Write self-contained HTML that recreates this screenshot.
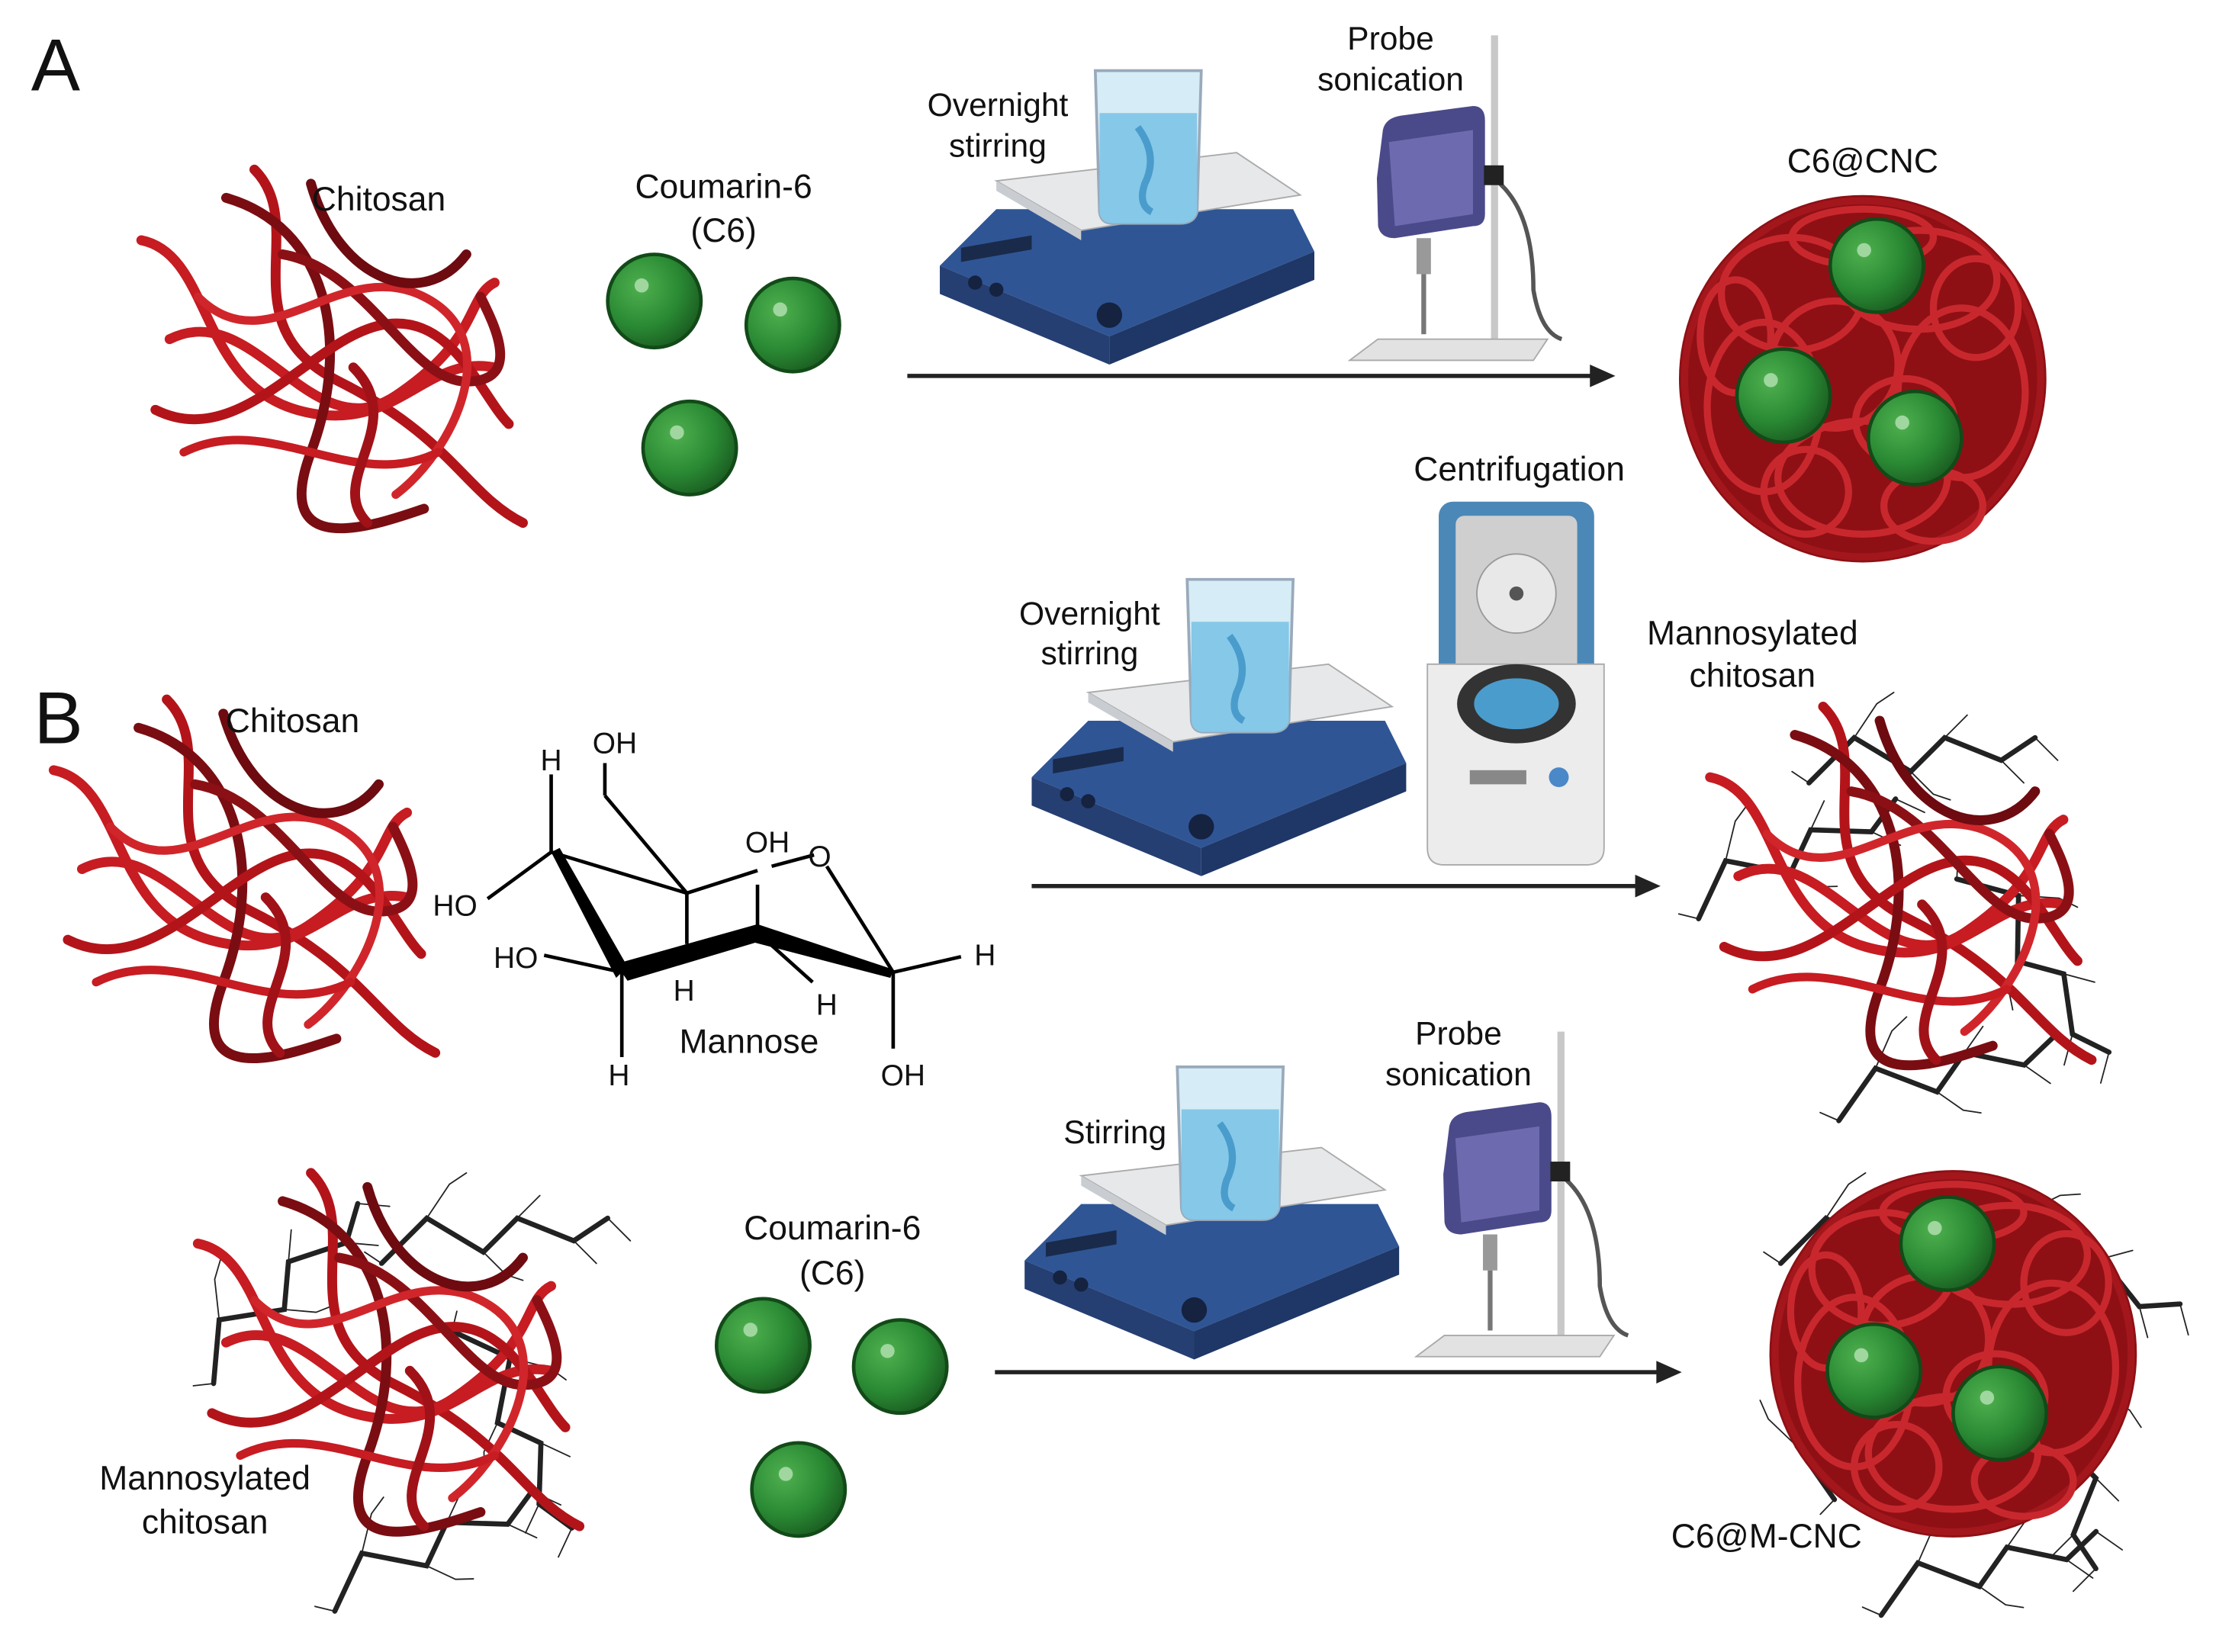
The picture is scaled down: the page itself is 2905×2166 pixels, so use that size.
<!DOCTYPE html>
<html><head><meta charset="utf-8"><style>
html,body{margin:0;padding:0;background:#fff;}
svg{display:block;}
text{font-family:"Liberation Sans",sans-serif;fill:#111;}
</style></head><body>
<svg width="2905" height="2166" viewBox="0 0 1568 1169" preserveAspectRatio="none" xmlns="http://www.w3.org/2000/svg">
<defs>
<radialGradient id="gs" cx="0.35" cy="0.35" r="0.7"><stop offset="0" stop-color="#4fb04f"/><stop offset="0.6" stop-color="#2a8a34"/><stop offset="1" stop-color="#1b5e22"/></radialGradient>
<g id="sph"><circle r="33" fill="url(#gs)" stroke="#124a18" stroke-width="2.5"/><circle cx="-9" cy="-11" r="5" fill="#9fd79f"/></g>
<g id="chit" fill="none" stroke-linecap="round">
<path d="M80 0 C120 40,60 110,140 150 S230 230,270 250" stroke="#b3141a" stroke-width="7"/>
<path d="M0 50 C50 60,40 150,110 170 S200 130,250 140" stroke="#c61c22" stroke-width="7"/>
<path d="M20 120 C80 90,120 200,180 160 S230 90,250 80" stroke="#c61c22" stroke-width="7"/>
<path d="M60 20 C130 40,150 120,120 200 S170 250,200 240" stroke="#7a0d12" stroke-width="7"/>
<path d="M10 170 C70 200,120 120,170 110 S240 160,260 180" stroke="#b3141a" stroke-width="7"/>
<path d="M100 60 C160 70,190 150,230 150 S250 110,240 90" stroke="#8b1015" stroke-width="7"/>
<path d="M40 90 C90 140,140 60,200 90 S220 200,180 230" stroke="#d0262b" stroke-width="6"/>
<path d="M120 10 C140 80,200 100,230 60" stroke="#6d0b10" stroke-width="7"/>
<path d="M30 200 C90 170,150 230,210 200" stroke="#c61c22" stroke-width="6"/>
<path d="M150 140 C190 180,130 220,160 250" stroke="#a01218" stroke-width="7"/>
</g>
<g id="m0" fill="none" stroke="#222" stroke-linecap="round">
<path d="M0 80 L40 40 L90 70 L120 40 L170 60 L200 40" stroke-width="4.5"/>
<path d="M40 40 L60 10 M90 70 L110 90 M120 40 L140 20 M170 60 L190 80 M200 40 L220 60 M0 80 L-15 70 M60 10 L75 0 M110 90 L125 95" stroke-width="1.2"/>
</g>
<g id="mann"><use href="#m0" transform="scale(0.8)"/></g>
<g id="np">
<circle r="130" fill="#8e1015"/>
<g fill="none" stroke="#c8282d" stroke-width="5">
<circle r="126" stroke="#a3171c"/>
<ellipse cx="-50" cy="-60" rx="50" ry="40"/><ellipse cx="40" cy="-70" rx="55" ry="35"/>
<ellipse cx="70" cy="10" rx="45" ry="60"/><ellipse cx="-70" cy="20" rx="40" ry="60"/>
<ellipse cx="0" cy="70" rx="60" ry="40"/><ellipse cx="-20" cy="-10" rx="45" ry="45"/>
<ellipse cx="30" cy="30" rx="35" ry="30"/><ellipse cx="-40" cy="80" rx="30" ry="30"/>
<ellipse cx="80" cy="-50" rx="30" ry="35"/><ellipse cx="-90" cy="-30" rx="25" ry="40"/>
<ellipse cx="50" cy="90" rx="35" ry="25"/><ellipse cx="0" cy="-100" rx="50" ry="20"/>
</g>
</g>
<g id="hp">
<polygon points="0,80 40,40 250,40 265,70 120,130" fill="#2f5595"/>
<polygon points="0,80 120,130 120,150 0,100" fill="#253f72"/>
<polygon points="120,130 265,70 265,90 120,150" fill="#1e3766"/>
<polygon points="40,20 210,0 255,30 100,55" fill="#e6e8ea" stroke="#aaa"/>
<polygon points="40,20 100,55 100,62 40,27" fill="#c9ccd0"/>
<rect x="15" y="70" width="50" height="10" fill="#1a2a4a" transform="skewY(-10)"/>
<circle cx="25" cy="92" r="5" fill="#152240"/><circle cx="40" cy="97" r="5" fill="#152240"/>
<circle cx="120" cy="115" r="9" fill="#152240"/>
</g>
<g id="bk">
<path d="M0 0 L75 0 L72 100 Q70 108 60 108 L12 108 Q4 108 3 100 Z" fill="#d6ecf6" stroke="#9ab" stroke-width="2"/>
<path d="M3 30 L72 30 L72 100 Q70 108 60 108 L12 108 Q4 108 3 100 Z" fill="#86c8e8"/>
<path d="M30 40 Q45 60 35 80 Q30 95 40 100" stroke="#4a9ccc" stroke-width="5" fill="none"/>
</g>
<g id="son">
<rect x="100" y="0" width="5" height="220" fill="#c8c8c8"/>
<polygon points="0,230 130,230 140,215 20,215" fill="#e2e2e2" stroke="#aaa"/>
<g transform="translate(15,50) scale(0.85)">
<path d="M5 60 L10 20 Q12 10 25 8 L85 0 Q95 0 95 12 L95 90 Q95 100 85 100 L20 110 Q8 110 6 100 Z" fill="#4a4a8a"/>
<path d="M15 30 L85 20 L85 90 L20 100 Z" fill="#6e6ab0"/>
<rect x="38" y="110" width="12" height="30" fill="#999"/><rect x="42" y="140" width="4" height="50" fill="#777"/>
</g>
<path d="M100 100 Q130 120 130 180 Q135 210 150 215" stroke="#555" stroke-width="3" fill="none"/>
<rect x="95" y="92" width="14" height="14" fill="#222"/>
</g>
</defs>

<text x="22" y="64" font-size="52">A</text>
<text x="24" y="526" font-size="52">B</text>

<use href="#chit" transform="translate(100,120)"/>
<text x="268" y="149" font-size="24" text-anchor="middle">Chitosan</text>
<text x="512" y="140" font-size="24" text-anchor="middle">Coumarin-6</text>
<text x="512" y="171" font-size="24" text-anchor="middle">(C6)</text>
<use href="#sph" transform="translate(463,213)"/>
<use href="#sph" transform="translate(561,230)"/>
<use href="#sph" transform="translate(488,317)"/>

<use href="#hp" transform="translate(665,108)"/>
<use href="#bk" transform="translate(775,50)"/>
<text x="706" y="82" font-size="23" text-anchor="middle">Overnight</text>
<text x="706" y="111" font-size="23" text-anchor="middle">stirring</text>
<use href="#son" transform="translate(955,25)"/>
<text x="984" y="35" font-size="23" text-anchor="middle">Probe</text>
<text x="984" y="64" font-size="23" text-anchor="middle">sonication</text>
<line x1="642" y1="266" x2="1130" y2="266" stroke="#222" stroke-width="3"/>
<polygon points="1143,266 1125,258 1125,274" fill="#222"/>

<text x="1318" y="122" font-size="24" text-anchor="middle">C6@CNC</text>
<use href="#np" transform="translate(1318,268)"/>
<use href="#sph" transform="translate(1328,188)"/>
<use href="#sph" transform="translate(1262,280)"/>
<use href="#sph" transform="translate(1355,310)"/>

<text x="1075" y="340" font-size="24" text-anchor="middle">Centrifugation</text>
<rect x="1018" y="355" width="110" height="130" rx="10" fill="#4b88b8"/>
<rect x="1030" y="365" width="86" height="115" rx="6" fill="#cfcfcf"/>
<circle cx="1073" cy="420" r="28" fill="#e8e8e8" stroke="#999"/><circle cx="1073" cy="420" r="5" fill="#555"/>
<path d="M1010 470 L1135 470 L1135 600 Q1135 612 1122 612 L1022 612 Q1010 612 1010 600 Z" fill="#ececec" stroke="#aaa"/>
<ellipse cx="1073" cy="498" rx="42" ry="28" fill="#333"/><ellipse cx="1073" cy="498" rx="30" ry="18" fill="#4a9ccc"/>
<rect x="1040" y="545" width="40" height="10" fill="#888"/><circle cx="1103" cy="550" r="7" fill="#4a88c8"/>

<use href="#hp" transform="translate(730,470)"/>
<use href="#bk" transform="translate(840,410)"/>
<text x="771" y="442" font-size="23" text-anchor="middle">Overnight</text>
<text x="771" y="470" font-size="23" text-anchor="middle">stirring</text>
<line x1="730" y1="627" x2="1160" y2="627" stroke="#222" stroke-width="3"/>
<polygon points="1175,627 1157,619 1157,635" fill="#222"/>

<text x="1240" y="456" font-size="24" text-anchor="middle">Mannosylated</text>
<text x="1240" y="486" font-size="24" text-anchor="middle">chitosan</text>
<use href="#mann" transform="translate(1280,490)"/>
<use href="#mann" transform="translate(1440,590) rotate(60)"/>
<use href="#mann" transform="translate(1180,590) rotate(-20)"/>
<use href="#mann" transform="translate(1290,730) rotate(-10)"/>
<use href="#chit" transform="translate(1210,500)"/>

<!-- Mannose -->
<g stroke="#000" stroke-width="2.5" fill="none">
<line x1="390" y1="603" x2="390" y2="548"/>
<line x1="428" y1="563" x2="428" y2="540"/>
<line x1="428" y1="563" x2="486" y2="632"/>
<line x1="390" y1="603" x2="486" y2="632"/>
<line x1="390" y1="603" x2="345" y2="636"/>
<line x1="486" y1="632" x2="536" y2="616"/>
<line x1="546" y1="613" x2="576" y2="605"/>
<line x1="536" y1="626" x2="536" y2="660"/>
<line x1="486" y1="632" x2="486" y2="668"/>
<line x1="585" y1="613" x2="632" y2="688"/>
<line x1="440" y1="688" x2="385" y2="676"/>
<line x1="440" y1="688" x2="440" y2="748"/>
<line x1="536" y1="660" x2="575" y2="695"/>
<line x1="632" y1="688" x2="680" y2="677"/>
<line x1="632" y1="688" x2="632" y2="742"/>
</g>
<polygon points="390,603 396,600 444,684 436,692" fill="#000"/>
<polygon points="436,682 536,654 538,666 444,694" fill="#000"/>
<polygon points="536,654 632,686 630,692 534,667" fill="#000"/>
<g font-size="21">
<text x="390" y="545" text-anchor="middle">H</text>
<text x="435" y="533" text-anchor="middle">OH</text>
<text x="322" y="648" text-anchor="middle">HO</text>
<text x="543" y="603" text-anchor="middle">OH</text>
<text x="580" y="613" text-anchor="middle">O</text>
<text x="365" y="685" text-anchor="middle">HO</text>
<text x="484" y="708" text-anchor="middle">H</text>
<text x="585" y="718" text-anchor="middle">H</text>
<text x="697" y="683" text-anchor="middle">H</text>
<text x="438" y="768" text-anchor="middle">H</text>
<text x="639" y="768" text-anchor="middle">OH</text>
</g>
<text x="530" y="745" font-size="24" text-anchor="middle">Mannose</text>

<use href="#chit" transform="translate(38,495)"/>
<text x="207" y="518" font-size="24" text-anchor="middle">Chitosan</text>

<!-- bottom -->
<use href="#mann" transform="translate(270,830)"/>
<use href="#mann" transform="translate(110,930) rotate(-40)"/>
<use href="#mann" transform="translate(380,920) rotate(70)"/>
<use href="#mann" transform="translate(215,1080) rotate(-20)"/>
<use href="#chit" transform="translate(140,830)"/>
<text x="145" y="1054" font-size="24" text-anchor="middle">Mannosylated</text>
<text x="145" y="1085" font-size="24" text-anchor="middle">chitosan</text>

<text x="589" y="877" font-size="24" text-anchor="middle">Coumarin-6</text>
<text x="589" y="909" font-size="24" text-anchor="middle">(C6)</text>
<use href="#sph" transform="translate(540,952)"/>
<use href="#sph" transform="translate(637,967)"/>
<use href="#sph" transform="translate(565,1054)"/>

<use href="#hp" transform="translate(725,812)"/>
<use href="#bk" transform="translate(833,755)"/>
<text x="789" y="809" font-size="23" text-anchor="middle">Stirring</text>
<use href="#son" transform="translate(1002,730)"/>
<text x="1032" y="739" font-size="23" text-anchor="middle">Probe</text>
<text x="1032" y="768" font-size="23" text-anchor="middle">sonication</text>
<line x1="704" y1="971" x2="1175" y2="971" stroke="#222" stroke-width="3"/>
<polygon points="1190,971 1172,963 1172,979" fill="#222"/>

<use href="#mann" transform="translate(1260,830)"/>
<use href="#mann" transform="translate(1420,815) rotate(30)"/>
<use href="#mann" transform="translate(1235,1050) rotate(-80)"/>
<use href="#mann" transform="translate(1515,950) rotate(90)"/>
<use href="#mann" transform="translate(1320,1080) rotate(-10)"/>
<use href="#np" transform="translate(1382,958)"/>
<use href="#sph" transform="translate(1378,880)"/>
<use href="#sph" transform="translate(1326,970)"/>
<use href="#sph" transform="translate(1415,1000)"/>
<text x="1250" y="1095" font-size="24" text-anchor="middle">C6@M-CNC</text>
</svg>
</body></html>
